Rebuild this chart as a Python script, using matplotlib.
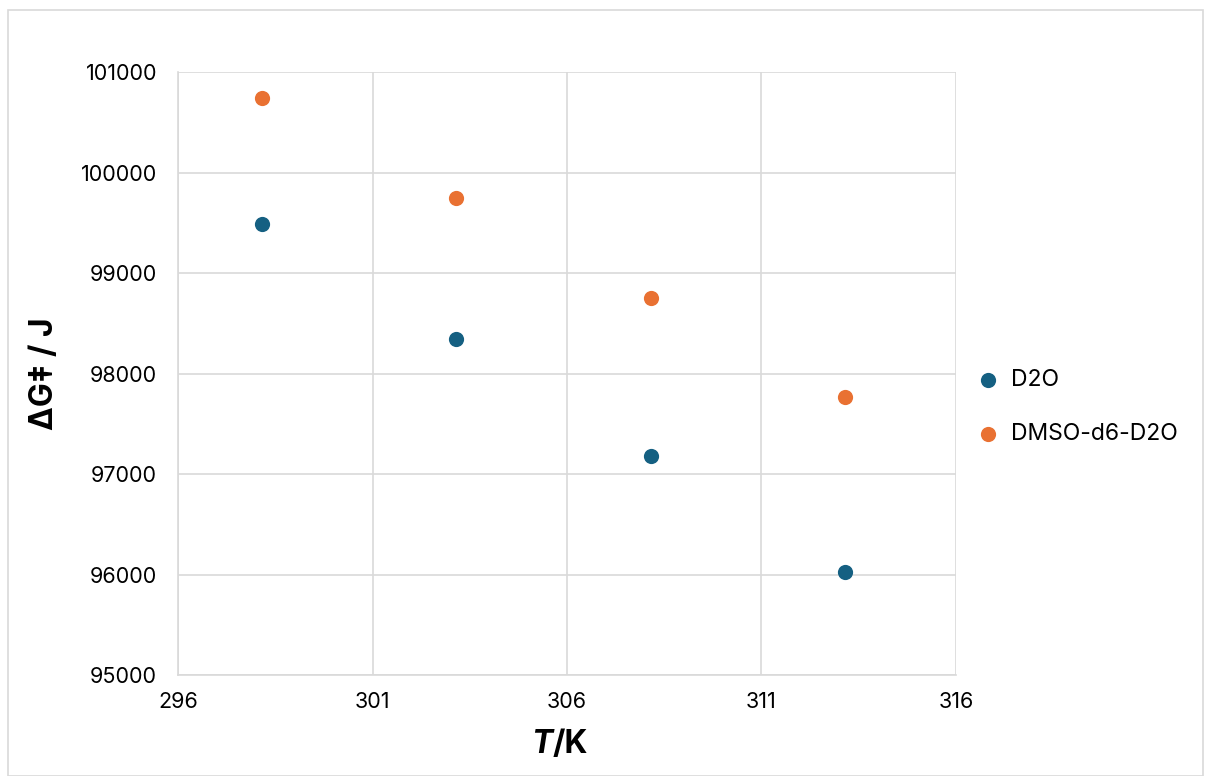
import numpy as np
import matplotlib.pyplot as plt
from matplotlib.patches import Rectangle

plt.rcParams['font.family'] = ['Inter', 'DejaVu Sans']

temps = [298.15, 303.15, 308.15, 313.15]
dg_d2o = [99490, 98340, 97185, 96030]
dg_dmso = [100740, 99745, 98755, 97765]
series_names = ['D2O', 'DMSO-d6-D2O']
colours = ['#156082', '#E97132']

fig = plt.figure(figsize=(12.07, 7.76), dpi=100)
ax = fig.add_axes([0.1475, 0.130, 0.6445, 0.777])

# light outer border like the chart frame
fig.patches.append(Rectangle((0.007, 0.0), 0.99, 0.987, transform=fig.transFigure,
                             fill=False, edgecolor='#d9d9d9', linewidth=1.2))

for vals, name, c in zip([dg_d2o, dg_dmso], series_names, colours):
    ax.scatter(temps, vals, s=120, color=c, label=name, zorder=3, linewidths=0)

ax.set_xlim(296, 316)
ax.set_ylim(95000, 101000)
ax.set_xticks(np.arange(296, 317, 5))
ax.set_yticks(np.arange(95000, 101001, 1000))
ax.grid(color='#d9d9d9', linewidth=1.2)
ax.set_axisbelow(True)
for s in ax.spines.values():
    s.set_visible(False)
for side in ['left', 'bottom']:
    ax.spines[side].set_visible(True)
    ax.spines[side].set_color('#d9d9d9')
    ax.spines[side].set_linewidth(1.2)
ax.tick_params(length=0, labelsize=15.5, colors='#000000')
ax.tick_params(axis='x', pad=12)
ax.tick_params(axis='y', pad=15)

# x label: italic T, upright /K
fig.text(0.458, 0.040, 'T', fontsize=23, fontweight='bold', style='italic', ha='right', va='center')
fig.text(0.458, 0.040, '/K', fontsize=23, fontweight='bold', ha='left', va='center')
ax.set_ylabel('ΔG‡ / J', fontsize=23, fontweight='bold')
ax.yaxis.set_label_coords(-0.152, 0.5)

ax.legend(loc='center left', bbox_to_anchor=(0.97, 0.445), frameon=False, fontsize=16.5,
          handletextpad=0.0, labelspacing=1.4, borderaxespad=1.0)

fig.savefig('out.png', dpi=100)
